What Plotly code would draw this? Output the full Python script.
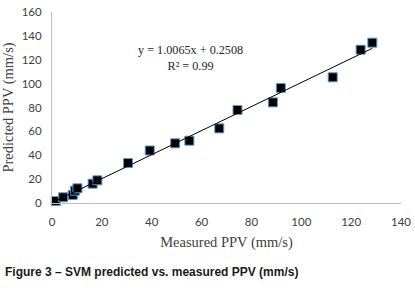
import plotly.graph_objects as go

measured = [1.5, 4.5, 8.3, 9.2, 10.2, 16.3, 18.2, 30.5, 39.2, 49.4, 55.1, 67.1, 74.4, 88.6, 91.8, 112.6, 123.8, 128.5]
predicted = [1.7, 4.8, 6.7, 10.3, 12.3, 16.2, 19.0, 33.5, 44.0, 50.0, 52.2, 62.5, 77.9, 84.3, 96.3, 105.3, 128.4, 134.3]
slope = 1.0065
intercept = 0.2508
x_ticks = [0, 20, 40, 60, 80, 100, 120, 140]
y_ticks = [0, 20, 40, 60, 80, 100, 120, 140, 160]

trend_x = [min(measured), max(measured)]
trend_y = [slope * v + intercept for v in trend_x]

fig = go.Figure()
fig.add_trace(go.Scatter(
    x=measured, y=predicted, mode="markers",
    marker=dict(symbol="square", size=9, color="black",
                line=dict(color="#5b9bd5", width=1)),
    showlegend=False, cliponaxis=False))
fig.add_trace(go.Scatter(
    x=trend_x, y=trend_y, mode="lines",
    line=dict(color="black", width=1), showlegend=False))

tickfont = dict(family="Lato, Liberation Sans", size=11.5, color="#404040")
titlefont = dict(family="Liberation Serif, Times New Roman", size=14.5, color="#404040")

fig.update_layout(
    width=415, height=291,
    margin=dict(l=52, r=14, t=12, b=88),
    paper_bgcolor="white", plot_bgcolor="white",
    font=dict(family="Liberation Sans, Arial", color="#404040", size=10),
    xaxis=dict(range=[0, 140], tickvals=x_ticks, showgrid=False, zeroline=False,
               showline=True, linecolor="#bfbfbf", linewidth=1,
               ticks="outside", ticklen=8, tickcolor="rgba(0,0,0,0)",
               automargin=False, tickfont=tickfont,
               title=dict(text="Measured PPV (mm/s)", standoff=10, font=titlefont)),
    yaxis=dict(range=[0, 160], tickvals=y_ticks, showgrid=False, zeroline=False,
               showline=True, linecolor="#bfbfbf", linewidth=1,
               ticks="outside", ticklen=7, tickcolor="rgba(0,0,0,0)",
               automargin=False, tickfont=tickfont,
               title=dict(text="Predicted PPV (mm/s)", standoff=5, font=titlefont)),
)

fig.add_annotation(
    xref="x", yref="y", x=55.5, y=121.5,
    text="y = 1.0065x + 0.2508<br>R² = 0.99", showarrow=False, align="center",
    font=dict(family="Liberation Serif, Times New Roman", size=12.2, color="#262626"))
fig.add_annotation(
    xref="paper", yref="paper", x=-0.14, y=-0.314, xanchor="left", yanchor="top",
    text="<b>Figure 3 – SVM predicted vs. measured PPV (mm/s)</b>", showarrow=False,
    font=dict(family="Liberation Sans, Arial", size=12, color="#1a1a1a"))

fig.write_html("out.html", config={"displayModeBar": False},
               post_script="document.body.style.margin='0';document.body.style.padding='0';")
